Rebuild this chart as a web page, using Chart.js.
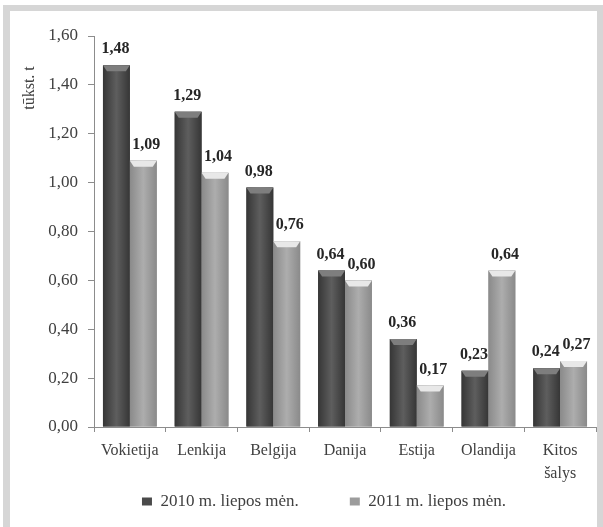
<!DOCTYPE html>
<html>
<head>
<meta charset="utf-8">
<script src="https://cdn.jsdelivr.net/npm/chart.js@4.4.0/dist/chart.umd.min.js"></script>
<style>
  html, body { margin: 0; padding: 0; background: #fff; }
  #frame {
    position: absolute; left: 3px; top: 5px; width: 587px; height: 516px;
    border-left: 7px solid #d6d6d6; border-top: 6px solid #d6d6d6; border-right: 6px solid #d6d6d6;
  }
  #frame canvas { display: block; }
</style>
</head>
<body>
<div id="frame"><canvas id="exportChart" width="587" height="516"></canvas></div>
<script>
const countries = ['Vokietija', 'Lenkija', 'Belgija', 'Danija', 'Estija', 'Olandija', ['Kitos', 'šalys']];
const july2010 = [1.48, 1.29, 0.98, 0.64, 0.36, 0.23, 0.24];
const july2011 = [1.09, 1.04, 0.76, 0.60, 0.17, 0.64, 0.27];
const seriesNames = ['2010 m. liepos mėn.', '2011 m. liepos mėn.'];
const axisTitle = 'tūkst. t';

const fmt = v => v.toFixed(2).replace('.', ',');
const serif = 'Liberation Serif';
const legendGap = 51;

// shaded "3D" look of the bars + value labels on top
const barShading = {
    id: 'barShading',
    afterDatasetsDraw(chart) {
        const ctx = chart.ctx;
        const shades = [['#363636', '#5e5e5e', '#7e7e7e'], ['#8a8a8a', '#adadad', '#e8e8e8']];
        chart.data.datasets.forEach((ds, i) => {
            const [edge, mid, bevel] = shades[i];
            chart.getDatasetMeta(i).data.forEach((bar, j) => {
                const { x, y, width, base } = bar.getProps(['x', 'y', 'width', 'base'], true);
                const left = x - width / 2, right = x + width / 2;
                const g = ctx.createLinearGradient(left, 0, right, 0);
                g.addColorStop(0, edge);
                g.addColorStop(0.5, mid);
                g.addColorStop(1, edge);
                ctx.save();
                ctx.fillStyle = g;
                ctx.fillRect(left, y, width, base - y);
                const b = Math.min(6, (base - y) / 2);
                ctx.fillStyle = bevel;
                ctx.beginPath();
                ctx.moveTo(left, y);
                ctx.lineTo(right, y);
                ctx.lineTo(right - 4, y + b);
                ctx.lineTo(left + 4, y + b);
                ctx.closePath();
                ctx.fill();
                ctx.font = 'bold 16px "' + serif + '"';
                ctx.fillStyle = '#262626';
                ctx.textAlign = 'center';
                ctx.textBaseline = 'middle';
                ctx.fillText(fmt(ds.data[j]), x + (i ? 3 : -1), y - 16);
                ctx.restore();
            });
        });
    }
};

const yTitle = {
    id: 'yTitle',
    afterLayout(chart) {
        // legend sits a bit right of centre and its wide item gap should not eat plot space
        const lg = chart.legend;
        lg.left += 42;
        lg.top -= legendGap - 10;
    },
    afterDraw(chart) {
        const { ctx, chartArea } = chart;
        ctx.save();
        ctx.translate(20, chartArea.top + 52);
        ctx.rotate(-Math.PI / 2);
        ctx.font = '16px "' + serif + '"';
        ctx.fillStyle = '#404040';
        ctx.textAlign = 'center';
        ctx.textBaseline = 'middle';
        ctx.fillText(axisTitle, 0, 0);
        ctx.restore();
    }
};

new Chart(document.getElementById('exportChart').getContext('2d'), {
    type: 'bar',
    data: {
        labels: countries,
        datasets: [
            {
                label: seriesNames[0],
                data: july2010,
                backgroundColor: '#4a4a4a',
                categoryPercentage: 0.75,
                barPercentage: 1
            },
            {
                label: seriesNames[1],
                data: july2011,
                backgroundColor: '#9c9c9c',
                categoryPercentage: 0.75,
                barPercentage: 1
            }
        ]
    },
    options: {
        responsive: false,
        animation: false,
        layout: { padding: { left: 0, top: 25, right: 1, bottom: 7 } },
        plugins: {
            tooltip: { enabled: false },
            legend: {
                position: 'bottom',
                maxHeight: 37,
                labels: {
                    boxWidth: 10,
                    boxHeight: 8,
                    padding: legendGap,
                    color: '#404040',
                    font: { family: serif, size: 17 }
                }
            }
        },
        scales: {
            x: {
                grid: { drawOnChartArea: false, tickLength: 5, color: '#8c8c8c', offset: true },
                border: { color: '#8c8c8c' },
                ticks: {
                    padding: 7,
                    color: '#404040',
                    maxRotation: 0,
                    autoSkip: false,
                    font: { family: serif, size: 16, lineHeight: 1.45 }
                },
                afterFit(scale) { scale.height = 56; }
            },
            y: {
                min: 0,
                max: 1.6,
                grid: { drawOnChartArea: false, tickLength: 6, color: '#8c8c8c' },
                border: { color: '#8c8c8c' },
                ticks: {
                    stepSize: 0.2,
                    padding: 10,
                    color: '#404040',
                    font: { family: serif, size: 17 },
                    callback: v => fmt(v)
                },
                afterFit(scale) { scale.width = 84; }
            }
        }
    },
    plugins: [barShading, yTitle]
});
</script>
</body>
</html>
